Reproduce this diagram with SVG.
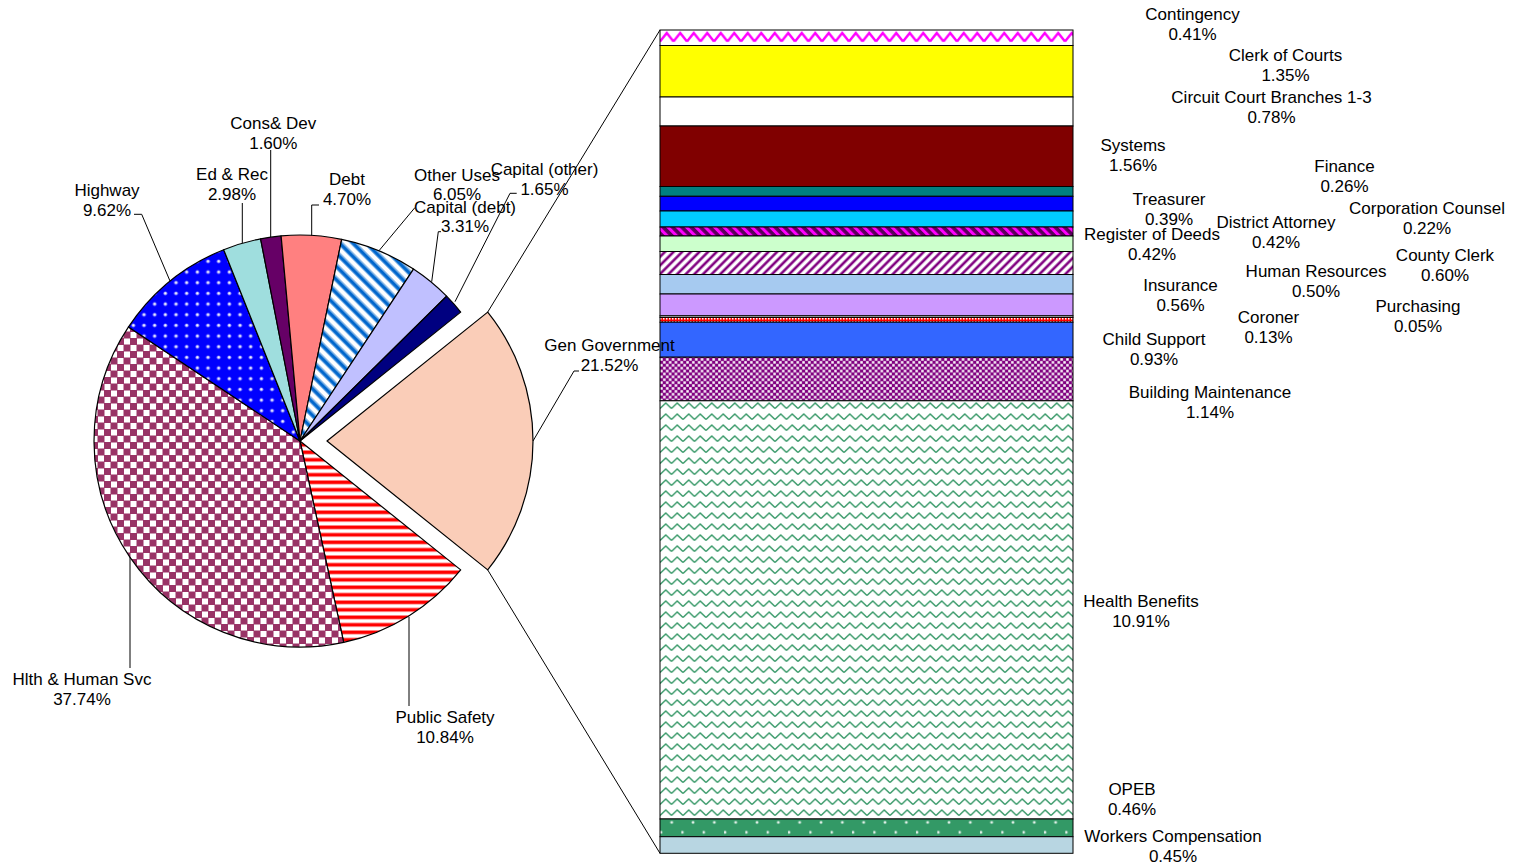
<svg xmlns="http://www.w3.org/2000/svg" width="1513" height="865" viewBox="0 0 1513 865">
  <style>
    text { font-family: "Liberation Sans", Arial, sans-serif; font-size: 17px; fill: #000; text-anchor: middle; }
    .slice { stroke: #000; stroke-width: 1.2; stroke-linejoin: round; }
    .bar { stroke: #000; stroke-width: 1; }
    .lead { fill: none; stroke: #000; stroke-width: 1; }
  </style>
  <defs>
    <!-- red horizontal stripes -->
    <pattern id="pRedStripe" patternUnits="userSpaceOnUse" width="8" height="7.5">
      <rect width="8" height="7.5" fill="#fff"/>
      <rect y="0" width="8" height="0.8" fill="#ff9090"/>
      <rect y="0.8" width="8" height="3" fill="#ff0000"/>
      <rect y="3.8" width="8" height="0.8" fill="#ff9090"/>
    </pattern>
    <!-- maroon checkerboard -->
    <pattern id="pChecker" patternUnits="userSpaceOnUse" width="13" height="13">
      <rect width="13" height="13" fill="#fff"/>
      <rect x="0" y="0" width="7" height="7" fill="#993366"/>
      <rect x="6.5" y="6.5" width="7" height="7" fill="#993366"/>
      <rect x="-6.5" y="6.5" width="7" height="7" fill="#993366"/>
      <rect x="6.5" y="-6.5" width="7" height="7" fill="#993366"/>
    </pattern>
    <!-- blue with white dots -->
    <pattern id="pDots" patternUnits="userSpaceOnUse" width="10.67" height="10.67">
      <rect width="10.67" height="10.67" fill="#0000ff"/>
      <circle cx="5.3" cy="5.3" r="2" fill="#8080ff"/>
      <circle cx="5.3" cy="5.3" r="1.1" fill="#fff"/>
    </pattern>
    <!-- blue wide diagonal stripes -->
    <pattern id="pBlueDiag" patternUnits="userSpaceOnUse" width="9.4" height="20" patternTransform="rotate(-45)">
      <rect width="9.4" height="20" fill="#fff"/>
      <rect x="0" width="1" height="20" fill="#80b3e6"/>
      <rect x="1" width="3.4" height="20" fill="#0066cc"/>
      <rect x="4.4" width="1" height="20" fill="#80b3e6"/>
    </pattern>
    <!-- magenta zigzag -->
    <pattern id="pZigMag" patternUnits="userSpaceOnUse" x="660" y="30" width="13.5" height="16">
      <rect width="13.5" height="16" fill="#fff"/>
      <polyline points="0,11.5 6.75,3 13.5,11.5" fill="none" stroke="#ff00ff" stroke-width="2.4"/>
    </pattern>
    <!-- green zigzag -->
    <pattern id="pZigGreen" patternUnits="userSpaceOnUse" x="660" y="401" width="11.5" height="11">
      <rect width="11.5" height="11" fill="#fff"/>
      <polyline points="0,7.5 5.75,2 11.5,7.5" fill="none" stroke="#3a9a6a" stroke-width="1.5"/>
    </pattern>
    <!-- purple / magenta short diagonals -->
    <pattern id="pCorp" patternUnits="userSpaceOnUse" width="6.6" height="6.6" patternTransform="rotate(-45)">
      <rect width="6.6" height="6.6" fill="#5a005a"/>
      <rect x="0" width="3" height="6.6" fill="#ff00ff"/>
    </pattern>
    <!-- purple diagonal stripes on white -->
    <pattern id="pPurpleDiag" patternUnits="userSpaceOnUse" width="6.1" height="20" patternTransform="rotate(45)">
      <rect width="6.1" height="20" fill="#fff"/>
      <rect x="0" width="0.6" height="20" fill="#c080c0"/>
      <rect x="0.6" width="2.2" height="20" fill="#800080"/>
      <rect x="2.8" width="0.6" height="20" fill="#c080c0"/>
    </pattern>
    <!-- fine red/white check -->
    <pattern id="pRedCheck" patternUnits="userSpaceOnUse" width="3" height="3">
      <rect width="3" height="3" fill="#ff0000"/>
      <rect width="1.5" height="1.5" fill="#fff"/>
    </pattern>
    <!-- purple and white small checks -->
    <pattern id="pPurpleCheck" patternUnits="userSpaceOnUse" x="660" y="358" width="5.8" height="5.8">
      <rect width="5.8" height="5.8" fill="#800080"/>
      <rect x="0.2" y="0.2" width="2.5" height="2.5" fill="#fff"/>
      <rect x="3.1" y="3.1" width="2.5" height="2.5" fill="#fff"/>
    </pattern>
    <!-- sea green with white dots -->
    <pattern id="pGreenDots" patternUnits="userSpaceOnUse" x="660" y="818.8" width="21.33" height="17.7">
      <rect width="21.33" height="17.7" fill="#339966"/>
      <circle cx="11.7" cy="3.5" r="1.6" fill="#a0d0b8"/>
      <circle cx="11.7" cy="3.5" r="0.9" fill="#fff"/>
      <circle cx="1" cy="13.5" r="1.6" fill="#a0d0b8"/>
      <circle cx="1" cy="13.5" r="0.9" fill="#fff"/>
    </pattern>
  </defs>

  <rect width="1513" height="865" fill="#fff"/>

  <!-- pie slices, clockwise from the exploded General Government slice -->
  <g id="slice-public-safety">
    <path class="slice" fill="url(#pRedStripe)" d="M300,441 L460.7,569.9 A206,206 0 0 1 343.7,642.3 Z"/>
  </g>
  <g id="slice-hlth-human-svc">
    <path class="slice" fill="url(#pChecker)" d="M300,441 L343.7,642.3 A206,206 0 0 1 128.5,326.9 Z"/>
  </g>
  <g id="slice-highway">
    <path class="slice" fill="url(#pDots)" d="M300,441 L128.5,326.9 A206,206 0 0 1 223.7,249.7 Z"/>
  </g>
  <g id="slice-ed-rec">
    <path class="slice" fill="#9fdede" d="M300,441 L223.7,249.7 A206,206 0 0 1 260.6,238.8 Z"/>
  </g>
  <g id="slice-cons-dev">
    <path class="slice" fill="#660066" d="M300,441 L260.6,238.8 A206,206 0 0 1 281.1,235.9 Z"/>
  </g>
  <g id="slice-debt">
    <path class="slice" fill="#ff8080" d="M300,441 L281.1,235.9 A206,206 0 0 1 341.7,239.3 Z"/>
  </g>
  <g id="slice-other-uses">
    <path class="slice" fill="url(#pBlueDiag)" d="M300,441 L341.7,239.3 A206,206 0 0 1 413.5,269.1 Z"/>
  </g>
  <g id="slice-capital-debt">
    <path class="slice" fill="#c0c0ff" d="M300,441 L413.5,269.1 A206,206 0 0 1 446.6,296.2 Z"/>
  </g>
  <g id="slice-capital-other">
    <path class="slice" fill="#000080" d="M300,441 L446.6,296.2 A206,206 0 0 1 460.7,312.1 Z"/>
  </g>
  <g id="slice-gen-government">
    <path class="slice" fill="#facdb8" d="M327,441 L487.7,312.1 A206,206 0 0 1 487.7,569.9 Z"/>
  </g>

  <!-- stacked breakdown of General Government -->
  <g id="bar-contingency"><rect class="bar" x="660" y="30" width="413" height="15.5" fill="url(#pZigMag)"/></g>
  <g id="bar-clerk-of-courts"><rect class="bar" x="660" y="45.5" width="413" height="51.5" fill="#ffff00"/></g>
  <g id="bar-circuit-court"><rect class="bar" x="660" y="97" width="413" height="29" fill="#ffffff"/></g>
  <g id="bar-systems"><rect class="bar" x="660" y="126" width="413" height="60.5" fill="#800000"/></g>
  <g id="bar-finance"><rect class="bar" x="660" y="186.5" width="413" height="9.8" fill="#008080"/></g>
  <g id="bar-treasurer"><rect class="bar" x="660" y="196.3" width="413" height="14.7" fill="#0000ff"/></g>
  <g id="bar-district-attorney"><rect class="bar" x="660" y="211" width="413" height="16" fill="#00ccff"/></g>
  <g id="bar-corporation-counsel"><rect class="bar" x="660" y="227" width="413" height="9" fill="url(#pCorp)"/></g>
  <g id="bar-register-of-deeds"><rect class="bar" x="660" y="236" width="413" height="15.5" fill="#ccffcc"/></g>
  <g id="bar-county-clerk"><rect class="bar" x="660" y="251.5" width="413" height="23" fill="url(#pPurpleDiag)"/></g>
  <g id="bar-human-resources"><rect class="bar" x="660" y="274.5" width="413" height="19.5" fill="#a6caf0"/></g>
  <g id="bar-insurance"><rect class="bar" x="660" y="294" width="413" height="21.8" fill="#cc99ff"/></g>
  <g id="bar-purchasing"><rect class="bar" x="660" y="315.8" width="413" height="1.6" fill="#ffffff"/></g>
  <g id="bar-coroner"><rect class="bar" x="660" y="317.4" width="413" height="4.8" fill="url(#pRedCheck)"/></g>
  <g id="bar-child-support"><rect class="bar" x="660" y="322.2" width="413" height="35" fill="#3366ff"/></g>
  <g id="bar-building-maintenance"><rect class="bar" x="660" y="357.2" width="413" height="43.6" fill="url(#pPurpleCheck)"/></g>
  <g id="bar-health-benefits"><rect class="bar" x="660" y="400.8" width="413" height="418.2" fill="url(#pZigGreen)"/></g>
  <g id="bar-opeb"><rect class="bar" x="660" y="819" width="413" height="17.7" fill="url(#pGreenDots)"/></g>
  <g id="bar-workers-compensation"><rect class="bar" x="660" y="836.7" width="413" height="16.6" fill="#b8d6e2"/></g>

  <!-- connectors: explode lines and label leaders -->
  <g id="connectors">
    <path class="lead" d="M487.7,312.1 L660,30"/>
    <path class="lead" d="M487.7,569.9 L660,853.3"/>
    <path class="lead" d="M134,214.3 L141.7,214.3 L170,281"/>
    <path class="lead" d="M242.3,203 L242.3,243"/>
    <path class="lead" d="M270.7,150 L270.7,237"/>
    <path class="lead" d="M319,205 L311.7,205 L311.7,235.5"/>
    <path class="lead" d="M379,250.7 L415,207.5"/>
    <path class="lead" d="M431.7,281.7 L438.3,231.7 L441,231.7"/>
    <path class="lead" d="M455,301.7 L510,193.3 L516.7,193.3"/>
    <path class="lead" d="M533,441 L574,371 L579,371"/>
    <path class="lead" d="M130,557 L130,668"/>
    <path class="lead" d="M409,617 L409,706"/>
  </g>

  <!-- pie labels -->
  <g id="label-cons-dev"><text x="273.3" y="128.5">Cons&amp; Dev<tspan x="273.3" dy="20">1.60%</tspan></text></g>
  <g id="label-ed-rec"><text x="232" y="179.5">Ed &amp; Rec<tspan x="232" dy="20">2.98%</tspan></text></g>
  <g id="label-highway"><text x="107" y="196">Highway<tspan x="107" dy="20">9.62%</tspan></text></g>
  <g id="label-debt"><text x="347" y="184.5">Debt<tspan x="347" dy="20">4.70%</tspan></text></g>
  <g id="label-other-uses"><text x="457" y="181">Other Uses<tspan x="457" dy="19">6.05%</tspan></text></g>
  <g id="label-capital-debt"><text x="465" y="212.5">Capital (debt)<tspan x="465" dy="19.5">3.31%</tspan></text></g>
  <g id="label-capital-other"><text x="544.5" y="175">Capital (other)<tspan x="544.5" dy="19.5">1.65%</tspan></text></g>
  <g id="label-gen-government"><text x="609.5" y="351">Gen Government<tspan x="609.5" dy="20">21.52%</tspan></text></g>
  <g id="label-hlth-human-svc"><text x="82" y="685">Hlth &amp; Human Svc<tspan x="82" dy="20">37.74%</tspan></text></g>
  <g id="label-public-safety"><text x="445" y="723">Public Safety<tspan x="445" dy="20">10.84%</tspan></text></g>

  <!-- bar labels -->
  <g id="label-contingency"><text x="1192.5" y="20">Contingency<tspan x="1192.5" dy="20">0.41%</tspan></text></g>
  <g id="label-clerk-of-courts"><text x="1285.5" y="61">Clerk of Courts<tspan x="1285.5" dy="19.5">1.35%</tspan></text></g>
  <g id="label-circuit-court"><text x="1271.5" y="103">Circuit Court Branches 1-3<tspan x="1271.5" dy="20">0.78%</tspan></text></g>
  <g id="label-systems"><text x="1133" y="151">Systems<tspan x="1133" dy="20">1.56%</tspan></text></g>
  <g id="label-finance"><text x="1344.5" y="172">Finance<tspan x="1344.5" dy="20">0.26%</tspan></text></g>
  <g id="label-treasurer"><text x="1169" y="205">Treasurer<tspan x="1169" dy="20">0.39%</tspan></text></g>
  <g id="label-district-attorney"><text x="1276" y="228">District Attorney<tspan x="1276" dy="20">0.42%</tspan></text></g>
  <g id="label-corporation-counsel"><text x="1427" y="214">Corporation Counsel<tspan x="1427" dy="20">0.22%</tspan></text></g>
  <g id="label-register-of-deeds"><text x="1152" y="240">Register of Deeds<tspan x="1152" dy="20">0.42%</tspan></text></g>
  <g id="label-county-clerk"><text x="1445" y="261">County Clerk<tspan x="1445" dy="20">0.60%</tspan></text></g>
  <g id="label-human-resources"><text x="1316" y="277">Human Resources<tspan x="1316" dy="20">0.50%</tspan></text></g>
  <g id="label-insurance"><text x="1180.5" y="291">Insurance<tspan x="1180.5" dy="19.5">0.56%</tspan></text></g>
  <g id="label-purchasing"><text x="1418" y="312">Purchasing<tspan x="1418" dy="19.5">0.05%</tspan></text></g>
  <g id="label-coroner"><text x="1268.5" y="323">Coroner<tspan x="1268.5" dy="19.5">0.13%</tspan></text></g>
  <g id="label-child-support"><text x="1154" y="345">Child Support<tspan x="1154" dy="19.5">0.93%</tspan></text></g>
  <g id="label-building-maintenance"><text x="1210" y="398">Building Maintenance<tspan x="1210" dy="20">1.14%</tspan></text></g>
  <g id="label-health-benefits"><text x="1141" y="607">Health Benefits<tspan x="1141" dy="19.5">10.91%</tspan></text></g>
  <g id="label-opeb"><text x="1132" y="795">OPEB<tspan x="1132" dy="20">0.46%</tspan></text></g>
  <g id="label-workers-compensation"><text x="1173" y="842">Workers Compensation<tspan x="1173" dy="20">0.45%</tspan></text></g>
</svg>
